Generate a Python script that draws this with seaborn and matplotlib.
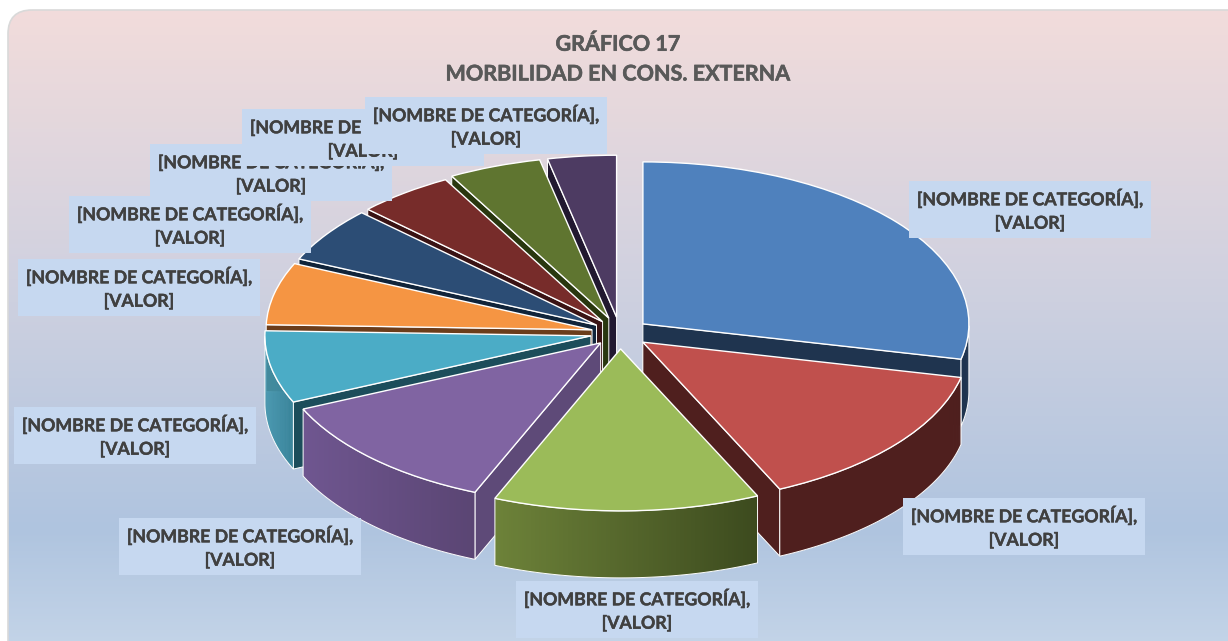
import numpy as np
import matplotlib
matplotlib.use("Agg")
import matplotlib.pyplot as plt
import matplotlib.patheffects as pe
from matplotlib.patches import FancyBboxPatch, Polygon, Rectangle
from matplotlib.colors import LinearSegmentedColormap, to_rgb
import seaborn as sns

sns.set_theme(style="white")
plt.rcParams['font.family'] = ['Lato', 'DejaVu Sans']

title_lines = ["GRÁFICO 17", "MORBILIDAD EN CONS. EXTERNA"]
label_text = "[NOMBRE DE CATEGORÍA],\n[VALOR]"
values = [28.5, 14.6, 13.2, 12.0, 7.2, 6.2, 5.5, 4.8, 4.6, 3.4]
explode = [0.09, 0.09, 0.098, 0.085, 0.091, 0.088, 0.087, 0.088, 0.098, 0.098]
top_colors = ["#4F81BD", "#C0504D", "#9BBB59", "#8064A2", "#4BACC6",
              "#F59543", "#2C4D75", "#772C2A", "#5F7530", "#4D3B62"]
cut_colors = ["#1F344F", "#4F1F1E", "#3C4A20", "#5E4A78", "#1C4D5B",
              "#6B3D1B", "#10243A", "#3A1314", "#29370F", "#211830"]
wall_left = ["#1F344F", "#4F1F1E", "#6D8239", "#6F5690", "#4296AE",
             "#A8622A", "#1B3550", "#4F1F1E", "#3F4F20", "#352A45"]
wall_right = ["#1F344F", "#4F1F1E", "#3C4A1E", "#5A4573", "#3A849A",
              "#A8622A", "#1B3550", "#4F1F1E", "#3F4F20", "#352A45"]
# label boxes in pixels (left, top), drawn in this order
label_boxes = [(909, 181), (903, 498), (516, 581), (119, 518), (14, 407),
               (18, 259), (69, 196), (150, 144), (242, 109), (365, 97)]
box_w, box_h = 242, 57

W, H = 1228, 641
CX, CY, RX, RY, DEPTH = 620, 333, 326, 162, 67

fig = plt.figure(figsize=(W / 100, H / 100), dpi=100, facecolor="white")

# background
bg = fig.add_axes([0, 0, 1, 1], zorder=0)
bg.set_xlim(0, W); bg.set_ylim(H, 0); bg.axis("off")
cmap = LinearSegmentedColormap.from_list(
    "bg", [(0, "#F2DCDB"), (0.45, "#CDD0E0"), (0.80, "#AFC4DF"), (1, "#C6D6E9")])
grad = np.linspace(0, 1, 256).reshape(-1, 1)
im = bg.imshow(grad, extent=(8, W, 660, 10), cmap=cmap, aspect="auto")
frame = FancyBboxPatch((8, 10), W + 20, 680, boxstyle="round,pad=0,rounding_size=24",
                       fc="none", ec="#D9D9D9", lw=1.2)
bg.add_patch(frame)
im.set_clip_path(frame)
bg.set_xlim(0, W); bg.set_ylim(H, 0)

# pie
ax = fig.add_axes([0, 0, 1, 1], zorder=1)
ax.patch.set_alpha(0)
wedges, _ = ax.pie(values, explode=explode, startangle=90, counterclock=False,
                   colors=sns.color_palette(top_colors),
                   wedgeprops=dict(edgecolor="white", linewidth=1.0))
ax.set_aspect("auto")
ax.set_xlim(-CX / RX, (W - CX) / RX)
ax.set_ylim(-(H - CY) / RY, CY / RY)
ax.axis("off")

d = DEPTH / RY
for i, w in enumerate(wedges):
    cx, cy = w.center
    t1, t2 = np.radians(w.theta1), np.radians(w.theta2)
    mid = (t1 + t2) / 2
    z = 10 + 10 * (1 - np.sin(mid))          # back to front
    # flat cut faces, only those turned towards the viewer
    for t, visible in ((t1, np.cos(t1) > 0.001), (t2, np.cos(t2) < -0.001)):
        if not visible:
            continue
        ox, oy = cx + np.cos(t), cy + np.sin(t)
        ax.add_patch(Polygon([(cx, cy), (ox, oy), (ox, oy - d), (cx, cy - d)],
                             fc=cut_colors[i], ec="white", lw=0.7, zorder=z))
    # outer wall with a horizontal gradient, only the front half of the rim
    ts = np.linspace(t1, t2, 121)
    ts = ts[np.sin(ts) <= 0]
    if len(ts) > 2:
        xs, ys = cx + np.cos(ts), cy + np.sin(ts)
        xmin, xmax = xs.min(), xs.max()
        cl, cr = np.array(to_rgb(wall_left[i])), np.array(to_rgb(wall_right[i]))
        # strips run left to right and each one overlaps the next
        order = np.argsort(xs)
        xo, yo = xs[order], ys[order]
        for k in range(len(xo) - 1):
            e = min(k + 2, len(xo) - 1)
            f = (xo[k] - xmin) / (xmax - xmin)
            ax.add_patch(Polygon([(xo[k], yo[k]), (xo[e], yo[e]),
                                  (xo[e], yo[e] - d), (xo[k], yo[k] - d)],
                                 fc=cl + (cr - cl) * f, ec="none", lw=0,
                                 zorder=z + 0.1 + k * 1e-4))
        outline = np.r_[np.c_[xs, ys], np.c_[xs[::-1], ys[::-1] - d]]
        ax.add_patch(Polygon(outline, closed=True, fc="none", ec="white", lw=0.7, zorder=z + 0.2))
    w.set_zorder(z + 0.3)

# text layer
ov = fig.add_axes([0, 0, 1, 1], zorder=2)
ov.patch.set_alpha(0)
ov.set_xlim(0, W); ov.set_ylim(H, 0); ov.axis("off")
stroke_t = [pe.withStroke(linewidth=0.4, foreground="#595959")]
stroke_l = [pe.withStroke(linewidth=0.3, foreground="#404040")]
ov.text(618, 44, title_lines[0], ha="center", va="center", fontsize=15.5,
        fontweight="bold", color="#595959", path_effects=stroke_t)
ov.text(618, 74, title_lines[1], ha="center", va="center", fontsize=15.5,
        fontweight="bold", color="#595959", path_effects=stroke_t)
for k, (x, y) in enumerate(label_boxes):
    ov.add_patch(Rectangle((x, y), box_w, box_h, fc="#C6D8F0", ec="none", zorder=3 + k))
    ov.text(x + box_w / 2, y + box_h / 2, label_text, ha="center", va="center",
            fontsize=12.75, fontweight="bold", color="#404040", linespacing=1.36,
            path_effects=stroke_l, zorder=3 + k + 0.5)

fig.savefig("out.png", dpi=100, facecolor="white")
